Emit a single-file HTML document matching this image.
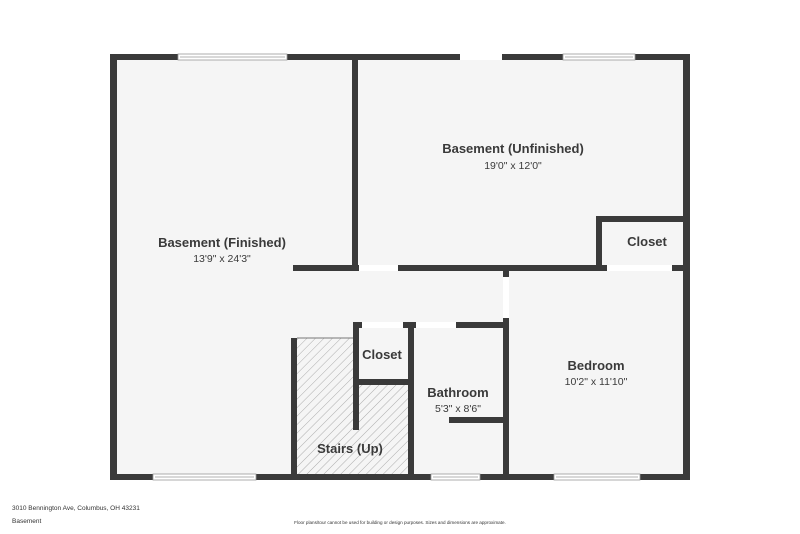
<!DOCTYPE html>
<html><head><style>body{margin:0;background:#fff}svg{display:block}</style></head><body>
<svg width="800" height="534" viewBox="0 0 800 534" xmlns="http://www.w3.org/2000/svg" font-family="'Liberation Sans', sans-serif">
<defs>
<pattern id="h" width="6" height="6" patternUnits="userSpaceOnUse" patternTransform="rotate(45)">
<line x1="0" y1="0" x2="0" y2="6" stroke="#9a9a9a" stroke-width="0.8"/>
</pattern>
</defs>
<rect x="111" y="54" width="578" height="426" fill="#f5f5f5"/>
<!-- hatch -->
<rect x="297" y="338" width="56" height="136" fill="url(#h)"/>
<rect x="353" y="385" width="56" height="89" fill="url(#h)"/>
<line x1="297" y1="338" x2="353" y2="338" stroke="#777" stroke-width="1"/>
<g fill="#3a3a3a">
<!-- outer -->
<rect x="110" y="54" width="580" height="6"/>
<rect x="110" y="474" width="580" height="6"/>
<rect x="110" y="54" width="7" height="426"/>
<rect x="683" y="54" width="7" height="426"/>
<!-- interior -->
<rect x="352" y="57" width="6" height="214"/>
<rect x="293" y="265" width="66" height="6"/>
<rect x="398" y="265" width="209" height="6"/>
<rect x="672" y="265" width="15" height="6"/>
<rect x="596" y="216" width="6" height="55"/>
<rect x="596" y="216" width="90" height="6"/>
<rect x="503" y="265" width="6" height="12"/>
<rect x="503" y="318" width="6" height="160"/>
<rect x="291" y="338" width="6" height="140"/>
<rect x="353" y="322" width="6" height="108"/>
<rect x="353" y="322" width="9" height="6"/>
<rect x="403" y="322" width="13" height="6"/>
<rect x="456" y="322" width="50" height="6"/>
<rect x="353" y="379" width="56" height="6"/>
<rect x="408" y="322" width="6" height="156"/>
<rect x="449" y="417" width="58" height="6"/>
</g>
<g fill="#fff" stroke="#999" stroke-width="0.8">
<!-- windows/doors -->
<rect x="178" y="54" width="109" height="6"/>
<rect x="460" y="54" width="42" height="6" stroke="none"/>
<rect x="563" y="54" width="72" height="6"/>
<rect x="153" y="474" width="103" height="6"/>
<rect x="431" y="474" width="49" height="6"/>
<rect x="554" y="474" width="86" height="6"/>
<rect x="362" y="322" width="41" height="6" stroke="none"/>
<rect x="416" y="322" width="40" height="6" stroke="none"/>
<rect x="359" y="265" width="39" height="6" stroke="none"/>
<rect x="607" y="265" width="65" height="6" stroke="none"/>
<rect x="503" y="277" width="6" height="41" stroke="none"/>
</g>
<line x1="180" y1="57" x2="285" y2="57" stroke="#999" stroke-width="0.8"/>
<line x1="565" y1="57" x2="633" y2="57" stroke="#999" stroke-width="0.8"/>
<line x1="155" y1="477" x2="254" y2="477" stroke="#999" stroke-width="0.8"/>
<line x1="433" y1="477" x2="478" y2="477" stroke="#999" stroke-width="0.8"/>
<line x1="556" y1="477" x2="638" y2="477" stroke="#999" stroke-width="0.8"/>
<g fill="#3a3a3a" text-anchor="middle">
<text x="222" y="247" font-size="13" font-weight="bold">Basement (Finished)</text>
<text x="222" y="262" font-size="10.5">13'9" x 24'3"</text>
<text x="513" y="153" font-size="13" font-weight="bold">Basement (Unfinished)</text>
<text x="513" y="169" font-size="10.5">19'0" x 12'0"</text>
<text x="647" y="246" font-size="13" font-weight="bold">Closet</text>
<text x="382" y="359" font-size="13" font-weight="bold">Closet</text>
<text x="458" y="397" font-size="13" font-weight="bold">Bathroom</text>
<text x="458" y="412" font-size="10.5">5'3" x 8'6"</text>
<text x="596" y="370" font-size="13" font-weight="bold">Bedroom</text>
<text x="596" y="385" font-size="10.5">10'2" x 11'10"</text>
<text x="350" y="453" font-size="13" font-weight="bold">Stairs (Up)</text>
</g>
<text x="12" y="510" font-size="6.5" fill="#333">3010 Bennington Ave, Columbus, OH 43231</text>
<text x="12" y="523" font-size="6.5" fill="#333">Basement</text>
<text x="400" y="524" font-size="4.6" fill="#333" text-anchor="middle">Floor plans/tour cannot be used for building or design purposes. Sizes and dimensions are approximate.</text>
</svg>
</body></html>
